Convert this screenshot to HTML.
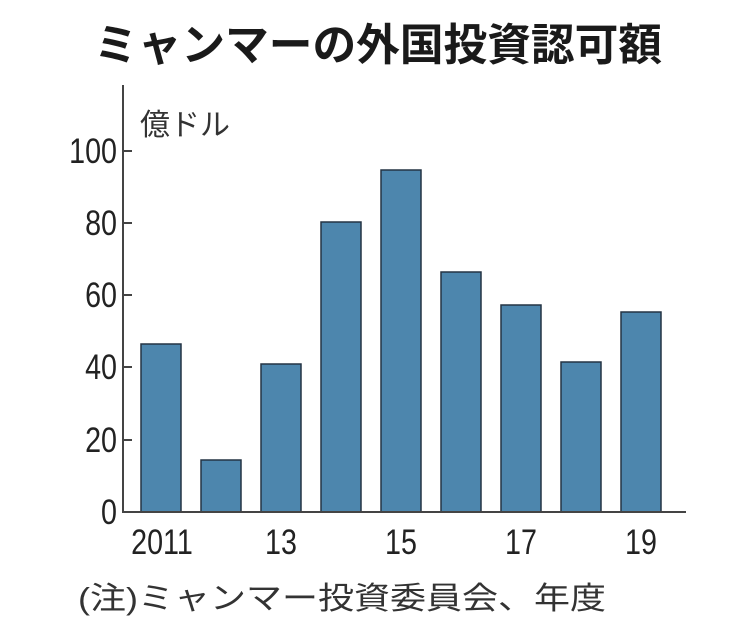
<!DOCTYPE html>
<html><head><meta charset="utf-8"><style>
body{margin:0;background:#fff;}
svg text{fill:#222;}
</style></head><body>
<svg width="752" height="631" xmlns="http://www.w3.org/2000/svg">
<text x="94" y="60" font-family="Liberation Sans, Noto Sans CJK JP, sans-serif" font-weight="bold" font-size="44" textLength="568" lengthAdjust="spacingAndGlyphs" style="fill:#1a1a1a">ミャンマーの外国投資認可額</text>
<text x="140" y="135" font-family="Liberation Sans, Noto Sans CJK JP, sans-serif" font-size="30" style="fill:#333">億ドル</text>
<g fill="#4d86ad" stroke="#243444" stroke-width="1.5">
<rect x="141" y="344" width="40" height="168"/>
<rect x="201" y="460" width="40" height="52"/>
<rect x="261" y="364" width="40" height="148"/>
<rect x="321" y="222" width="40" height="290"/>
<rect x="381" y="170" width="40" height="342"/>
<rect x="441" y="272" width="40" height="240"/>
<rect x="501" y="305" width="40" height="207"/>
<rect x="561" y="362" width="40" height="150"/>
<rect x="621" y="312" width="40" height="200"/>
</g>
<g stroke="#444" stroke-width="2">
<line x1="123" y1="85" x2="123" y2="513"/>
<line x1="122" y1="512" x2="686" y2="512"/>
<line x1="123" y1="151" x2="132" y2="151"/>
<line x1="123" y1="223" x2="132" y2="223"/>
<line x1="123" y1="295" x2="132" y2="295"/>
<line x1="123" y1="367" x2="132" y2="367"/>
<line x1="123" y1="440" x2="132" y2="440"/>
</g>
<g font-family="Liberation Sans Narrow, Liberation Sans, sans-serif" font-size="35" text-anchor="end" style="fill:#333">
<text x="117" y="163" transform="translate(117 0) scale(0.82 1) translate(-117 0)">100</text>
<text x="117" y="235" transform="translate(117 0) scale(0.82 1) translate(-117 0)">80</text>
<text x="117" y="307" transform="translate(117 0) scale(0.82 1) translate(-117 0)">60</text>
<text x="117" y="379" transform="translate(117 0) scale(0.82 1) translate(-117 0)">40</text>
<text x="117" y="452" transform="translate(117 0) scale(0.82 1) translate(-117 0)">20</text>
<text x="117" y="524" transform="translate(117 0) scale(0.82 1) translate(-117 0)">0</text>
</g>
<g font-family="Liberation Sans Narrow, Liberation Sans, sans-serif" font-size="35" text-anchor="middle" style="fill:#333">
<text x="162" y="554" transform="translate(162 0) scale(0.82 1) translate(-162 0)">2011</text>
<text x="281" y="554" transform="translate(281 0) scale(0.82 1) translate(-281 0)">13</text>
<text x="401" y="554" transform="translate(401 0) scale(0.82 1) translate(-401 0)">15</text>
<text x="521" y="554" transform="translate(521 0) scale(0.82 1) translate(-521 0)">17</text>
<text x="641" y="554" transform="translate(641 0) scale(0.82 1) translate(-641 0)">19</text>
</g>
<text x="78" y="609" font-family="Liberation Sans, Noto Sans CJK JP, sans-serif" font-size="31" textLength="528" lengthAdjust="spacingAndGlyphs" style="fill:#333">(注)ミャンマー投資委員会、年度</text>
</svg>
</body></html>
